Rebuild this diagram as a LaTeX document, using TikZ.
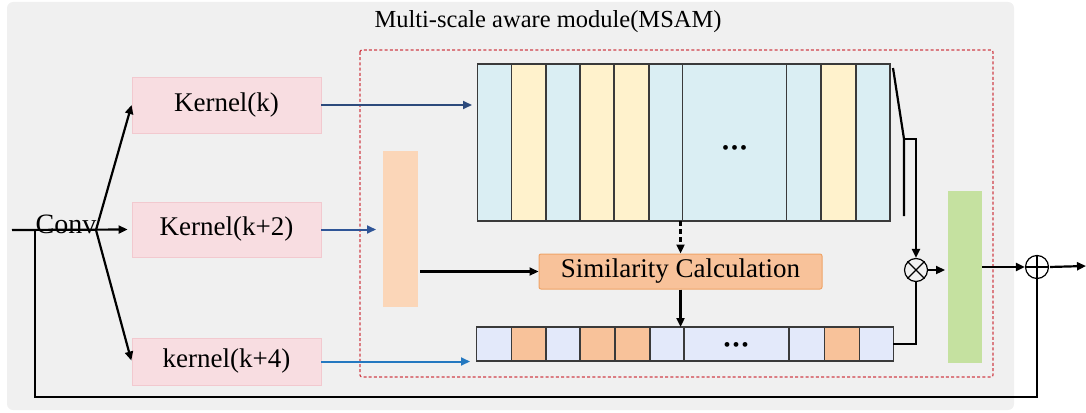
\documentclass[tikz,border=0pt]{standalone}
\usepackage{fontspec}
\setmainfont{Liberation Serif}
\usetikzlibrary{arrows.meta,calc}
\definecolor{bggray}{HTML}{F0F0F0}
\definecolor{pinkfill}{HTML}{F8DDE1}
\definecolor{pinkdraw}{HTML}{F2C9CF}
\definecolor{cyanfill}{HTML}{DAEEF3}
\definecolor{yelfill}{HTML}{FFF2CC}
\definecolor{lavfill}{HTML}{E3E9FA}
\definecolor{orfill}{HTML}{F8C29A}
\definecolor{barfill}{HTML}{FBD6B8}
\definecolor{simdraw}{HTML}{EFA468}
\definecolor{grfill}{HTML}{C5E1A0}
\definecolor{dashred}{HTML}{D0404A}
\definecolor{blueA}{HTML}{2C4A7C}
\definecolor{blueB}{HTML}{2F5597}
\definecolor{blueC}{HTML}{2478C0}
\definecolor{stripedraw}{HTML}{3A3A3A}
\tikzset{
  kbox/.style={draw=pinkdraw,fill=pinkfill,line width=0.8pt,minimum width=189pt,inner sep=0pt,font=\fontsize{27}{30}\selectfont},
  bar/.style={inner sep=0pt,anchor=north west},
  arr/.style={line width=2.2pt,-{Triangle[length=9pt,width=8pt]}},
  plain/.style={line width=2.2pt},
  barr/.style={line width=2pt,-{Triangle[length=9pt,width=8pt]}},
  stripe/.style={draw=stripedraw,line width=1.3pt},
  opcirc/.style={circle,draw=black,line width=1.2pt,minimum size=23pt,inner sep=0pt},
  dots/.style={font=\fontsize{20}{20}\selectfont,inner sep=0pt}
}
\begin{document}
\begin{tikzpicture}[x=1pt,y=-1pt]
\useasboundingbox (0,0) rectangle (1086,412);
% background
\fill[bggray,rounded corners=6pt] (7,2) rectangle (1014,410);
\node[font=\fontsize{24.5}{28}\selectfont] (title) at (548,22) {Multi-scale aware module(MSAM)};
% dashed module frame
\draw[dashred,line width=1.2pt,dash pattern=on 3pt off 2.2pt,rounded corners=2pt] (360,50) rectangle (993,377);
% kernel boxes
\node[kbox,minimum height=56pt] (k1) at (226.5,105) {Kernel(k)};
\node[kbox,minimum height=55pt] (k2) at (226.5,229.5) {Kernel(k+2)};
\node[kbox,minimum height=47pt] (k3) at (226.5,361.5) {kernel(k+4)};
% conv label
\node[font=\fontsize{28}{30}\selectfont,inner sep=0pt] (conv) at (66,224) {Conv};
% orange bar
\node[bar,fill=barfill,minimum width=35pt,minimum height=156pt] (obar) at (383,151) {};
% top stripes
\node[bar,minimum width=413pt,minimum height=157pt] (top) at (477,64) {};
\foreach \a/\b/\c in {477.3/511.7/cyanfill,511.7/546/yelfill,546/580/cyanfill,580/614/yelfill,614/649/yelfill,649/682.7/cyanfill,682.7/786.7/cyanfill,786.7/821/cyanfill,821/856/yelfill,856/890/cyanfill}
  \filldraw[stripe,fill=\c] (\a,64) rectangle (\b,221);
\node[dots] (tdots) at (734.5,150) {•\hspace{2pt}•\hspace{2pt}•};
% bottom stripes
\node[bar,minimum width=416pt,minimum height=34pt] (bot) at (477,327) {};
\foreach \a/\b/\c in {476.7/511.7/lavfill,511.7/546/orfill,546/580/lavfill,580/615/orfill,615/650/orfill,650/684/lavfill,684/789/lavfill,789/824.3/lavfill,824.3/859.3/orfill,859.3/893.3/lavfill}
  \filldraw[stripe,fill=\c] (\a,327) rectangle (\b,361);
\node[dots] (bdots) at (736,347) {•\hspace{2pt}•\hspace{2pt}•};
% similarity calculation
\node[draw=simdraw,fill=orfill,line width=1pt,rounded corners=2pt,minimum width=283pt,minimum height=35pt,inner sep=0pt,font=\fontsize{27}{30}\selectfont] (sim) at (680.5,271.5) {Similarity Calculation};
% green bar
\node[bar,fill=grfill,minimum width=34pt,minimum height=172pt] (green) at (948,191) {};
% operators
\node[opcirc] (ot) at (916,270) {};
\draw[line width=1.1pt] (ot.north west) -- (ot.south east) (ot.south west) -- (ot.north east);
\node[opcirc] (op) at (1037,267) {};
\draw[line width=1.1pt] (op.north) -- (op.south) (op.west) -- (op.east);
% coordinates
\coordinate (in) at (12,230);
\coordinate (br) at (96,230);
\coordinate (fb) at (35,230);
\coordinate (c1) at (893,68);
\coordinate (c2) at (904,139);
\coordinate (c3) at (904,216);
\coordinate (out) at (1086,266);
% connectors
\draw[arr,shorten >=4pt] (in) -- (k2.west);
\draw[arr] (br) -- (k1.west);
\draw[arr,shorten >=1pt] (br) -- (k3.west);
\draw[plain] (fb) -- (35,397) -| (op.south);
\draw[barr,blueA,shorten >=5pt] (k1.east) -- (k1.east -| top.west);
\draw[barr,blueB,shorten >=7pt] (k2.east) -- (k2.east -| obar.west);
\draw[barr,blueC,shorten >=7pt] (k3.east) -- (k3.east -| bot.west);
\draw[arr,shorten <=2pt] (sim.west -| obar.east) -- (sim.west);
\draw[arr,dash pattern=on 5pt off 3pt] (sim.north |- top.south) -- (sim.north);
\draw[arr] (sim.south) -- (sim.south |- bot.north);
\draw[plain] (c1) -- (c2) -- (c3);
\draw[arr] (c2) -| (ot.north);
\draw[plain] (bot.east) -| (ot.south);
\draw[arr,shorten >=3pt] (ot.east) -- (ot.east -| green.west);
\draw[arr] (green.east |- op.west) -- (op.west);
\draw[arr,shorten <=1pt] (op.east) -- (out);
\end{tikzpicture}
\end{document}
